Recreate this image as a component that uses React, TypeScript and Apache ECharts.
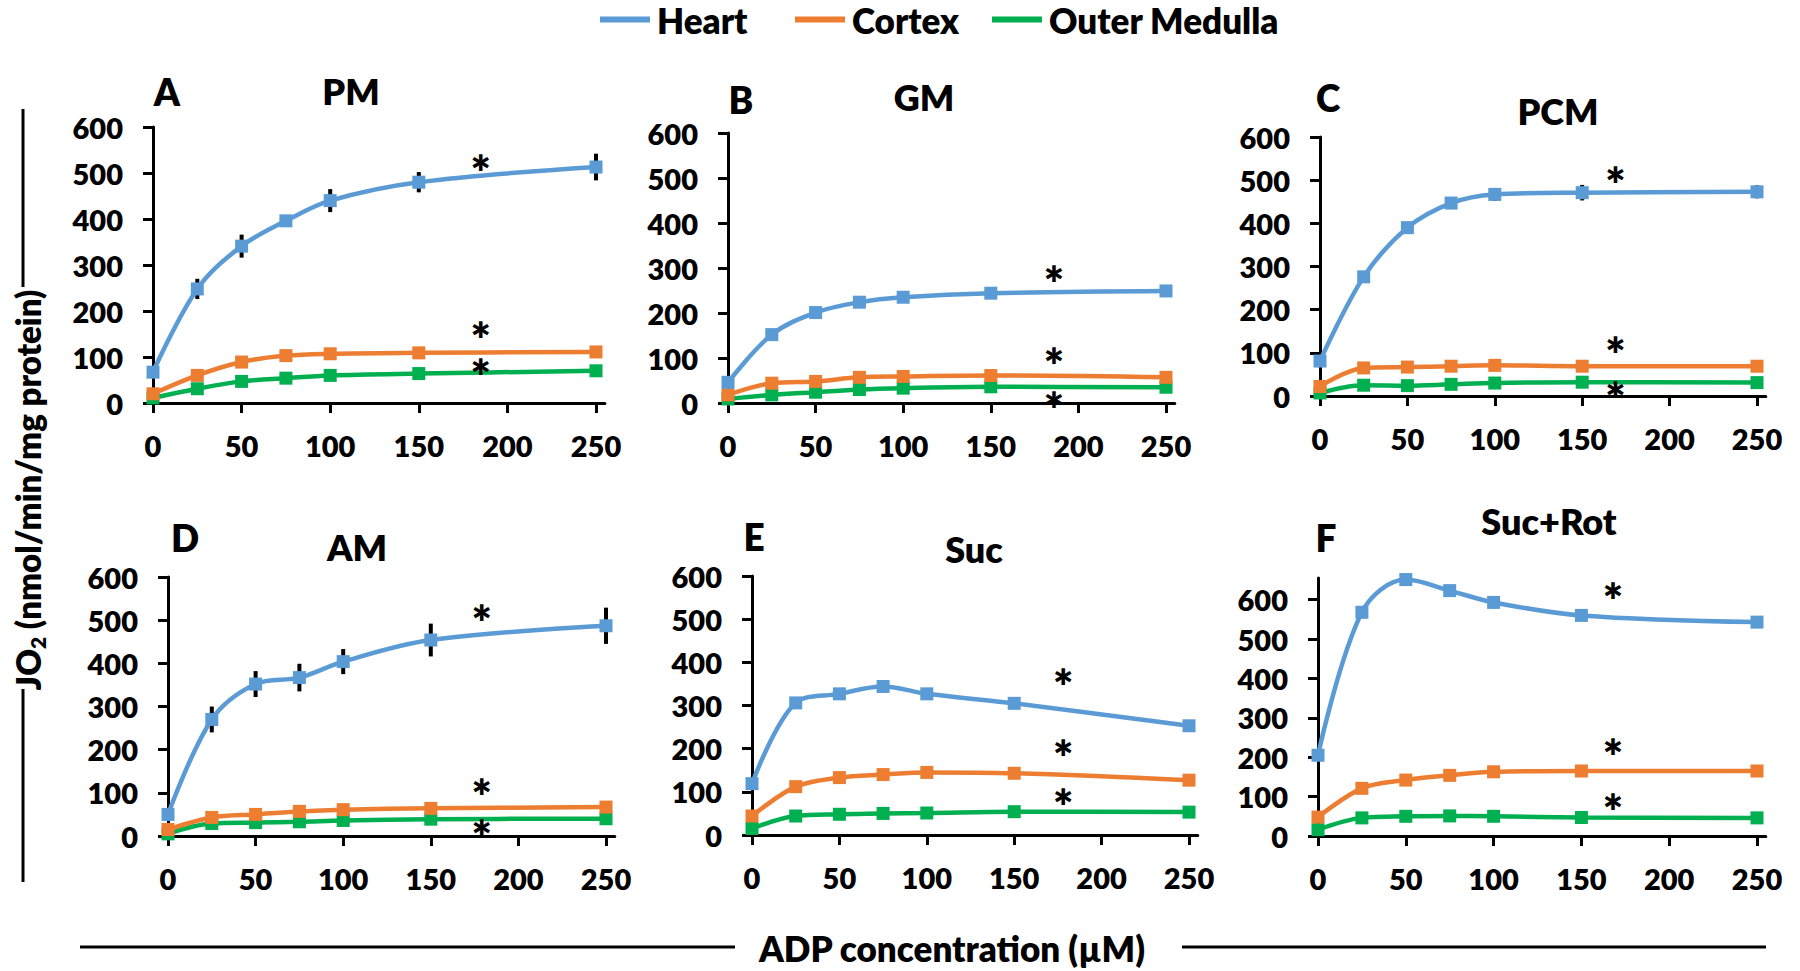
import React, { useEffect, useRef } from "react";
import * as echarts from "echarts";

// ADP concentration (µM)
const adp = [0, 25, 50, 75, 100, 150, 250];
const xTicks = [0, 50, 100, 150, 200, 250];
const yTicks = [0, 100, 200, 300, 400, 500, 600];

const panelLetters = ["A", "B", "C", "D", "E", "F"];
const panelNames = ["PM", "GM", "PCM", "AM", "Suc", "Suc+Rot"];
const yMax = [600, 600, 600, 600, 600, 655];

// JO2 values per panel
const heartA = [67, 248, 341, 396, 440, 480, 513];
const cortexA = [20, 60, 89, 103, 107, 109, 111];
const medullaA = [11, 31, 47, 54, 60, 64, 70];

const heartB = [46, 152, 201, 224, 235, 244, 249];
const cortexB = [18, 44, 48, 57, 59, 61, 57];
const medullaB = [9, 18, 24, 30, 33, 36, 35];

const heartC = [81, 276, 390, 447, 467, 471, 473];
const cortexC = [22, 65, 67, 69, 71, 69, 69];
const medullaC = [7, 25, 24, 27, 30, 32, 31];

const heartD = [50, 270, 352, 367, 404, 454, 487];
const cortexD = [15, 43, 50, 57, 61, 64, 67];
const medullaD = [5, 29, 31, 33, 36, 39, 40];

const heartE = [119, 306, 327, 344, 327, 305, 253];
const cortexE = [44, 112, 133, 140, 145, 143, 127];
const medullaE = [15, 44, 48, 50, 51, 54, 53];

const heartF = [205, 568, 651, 623, 593, 560, 543];
const cortexF = [48, 121, 142, 154, 163, 165, 165];
const medullaF = [16, 46, 50, 51, 50, 47, 46];

// error bars (± SE)
const heartErrA = [5, 22, 25, 8, 25, 22, 29];
const heartErrB = [5, 12, 12, 12, 12, 12, 12];
const heartErrC = [5, 12, 10, 14, 15, 18, 15];
const heartErrD = [5, 30, 30, 32, 29, 38, 42];
const heartErrE = [3, 3, 3, 3, 3, 3, 3];
const heartErrF = [5, 15, 12, 12, 15, 12, 12];
const cortexErrA = [3, 5, 5, 8, 8, 5, 5];
const cortexErrB = [3, 4, 4, 5, 6, 6, 5];
const cortexErrC = [3, 8, 8, 8, 8, 5, 5];
const cortexErrD = [3, 4, 4, 4, 4, 5, 8];
const cortexErrE = [3, 8, 8, 6, 8, 8, 10];
const cortexErrF = [3, 12, 10, 10, 10, 5, 5];

// significance asterisks (x position, heart / cortex / medulla heights)
const starX = [185, 186, 169, 179, 178, 168];
const starHeart = [524, 289, 515, 520, 370, 626];
const starCortex = [162, 107, 121, 118, 205, 231];
const starMedulla = [82, 11, 17, 21, 91, 91];

const seriesNames = ["Heart", "Cortex", "Outer Medulla"];
const colors = ["#5B9BD5", "#ED7D31", "#00B050"];

const heartAll = [heartA, heartB, heartC, heartD, heartE, heartF];
const cortexAll = [cortexA, cortexB, cortexC, cortexD, cortexE, cortexF];
const medullaAll = [medullaA, medullaB, medullaC, medullaD, medullaE, medullaF];
const heartErrAll = [heartErrA, heartErrB, heartErrC, heartErrD, heartErrE, heartErrF];
const cortexErrAll = [cortexErrA, cortexErrB, cortexErrC, cortexErrD, cortexErrE, cortexErrF];

const FONT = "Lato, 'Open Sans', sans-serif";
const W = 800;

// layout of the six panels (pixels)
const grids = [
  { left: 153, top: 127, width: 443, height: 276 },
  { left: 728, top: 133, width: 438, height: 270 },
  { left: 1320, top: 137, width: 437, height: 259 },
  { left: 168, top: 577, width: 438, height: 259 },
  { left: 752, top: 576, width: 437, height: 259 },
  { left: 1318, top: 578, width: 439, height: 258 },
];
const letterPos = [
  [167, 91], [741, 99], [1328, 97], [185, 537], [754, 536], [1326, 537],
];
const namePos = [
  [351, 91], [924, 97], [1558, 111], [357, 547], [974, 549], [1549, 521],
];

export default function App() {
  const ref = useRef<HTMLDivElement>(null);

  useEffect(() => {
    if (!ref.current) return;
    const chart = echarts.init(ref.current, undefined, { renderer: "svg" });

    const xMaxExt = 255;
    const gridOpts = grids.map((g) => ({
      left: g.left,
      top: g.top,
      width: (g.width * xMaxExt) / 250,
      height: g.height,
      containLabel: false,
    }));

    const axisCommon = {
      axisLine: { show: true, lineStyle: { color: "#000", width: 3 } },
      axisTick: { show: true, inside: false, length: 10, lineStyle: { color: "#000", width: 3 } },
      splitLine: { show: false },
    };

    const xAxes = grids.map((_, i) => ({
      type: "value",
      gridIndex: i,
      min: 0,
      max: xMaxExt,
      ...axisCommon,
      axisTick: { ...axisCommon.axisTick, customValues: xTicks },
      axisLabel: {
        customValues: xTicks,
        margin: 28,
        color: "#000",
        fontFamily: FONT,
        fontWeight: W,
        fontSize: 29,
      },
    }));

    const yAxes = grids.map((_, i) => ({
      type: "value",
      gridIndex: i,
      min: 0,
      max: yMax[i],
      ...axisCommon,
      axisTick: { ...axisCommon.axisTick, customValues: yTicks },
      axisLabel: {
        customValues: yTicks,
        margin: 30,
        color: "#000",
        fontFamily: FONT,
        fontWeight: W,
        fontSize: 29,
      },
    }));

    const series: any[] = [];
    const errRender = (params: any, api: any) => {
      const x = api.value(0);
      const y = api.value(1);
      const e = api.value(2);
      const p1 = api.coord([x, y + e]);
      const p2 = api.coord([x, y - e]);
      return {
        type: "line",
        shape: { x1: p1[0], y1: p1[1], x2: p2[0], y2: p2[1] },
        style: { stroke: "#000", lineWidth: 4 },
      };
    };
    const starRender = (params: any, api: any) => {
      const p = api.coord([api.value(0), api.value(1)]);
      return {
        type: "text",
        x: p[0],
        y: p[1] + 10,
        style: {
          text: "*",
          fill: "#000",
          font: `${W} 48px ${FONT}`,
          textAlign: "center",
          textVerticalAlign: "middle",
        },
      };
    };

    for (let i = 0; i < 6; i++) {
      const vals = [heartAll[i], cortexAll[i], medullaAll[i]];
      // error bars
      series.push({
        type: "custom",
        xAxisIndex: i,
        yAxisIndex: i,
        z: 1,
        renderItem: errRender,
        encode: { x: 0, y: 1 },
        data: adp.map((x, k) => [x, heartAll[i][k], heartErrAll[i][k]]),
        silent: true,
      });
      series.push({
        type: "custom",
        xAxisIndex: i,
        yAxisIndex: i,
        z: 1,
        renderItem: errRender,
        encode: { x: 0, y: 1 },
        data: adp.map((x, k) => [x, cortexAll[i][k], cortexErrAll[i][k]]),
        silent: true,
      });
      for (let s = 0; s < 3; s++) {
        series.push({
          name: seriesNames[s],
          type: "line",
          xAxisIndex: i,
          yAxisIndex: i,
          z: 3 - s + 2,
          smooth: 0.35,
          symbol: "rect",
          symbolSize: 13,
          showAllSymbol: true,
          lineStyle: { color: colors[s], width: 4.5 },
          itemStyle: { color: colors[s] },
          data: adp.map((x, k) => [x, vals[s][k]]),
        });
      }
      // asterisks
      series.push({
        type: "custom",
        xAxisIndex: i,
        yAxisIndex: i,
        z: 10,
        silent: true,
        renderItem: starRender,
        encode: { x: 0, y: 1 },
        data: [
          [starX[i], starHeart[i]],
          [starX[i], starCortex[i]],
          [starX[i], starMedulla[i]],
        ],
      });
    }

    const legendLefts = [595, 790, 987];
    const legends = seriesNames.map((n, k) => ({
      data: [n],
      left: legendLefts[k],
      top: -3,
      icon: "rect",
      itemWidth: 50,
      itemHeight: 6,
      itemGap: 0,
      selectedMode: false,
      textStyle: {
        color: "#000",
        fontFamily: FONT,
        fontWeight: W,
        fontSize: 35,
        lineHeight: 30,
        padding: [0, 0, 0, 2],
      },
    }));

    const graphics: any[] = [];
    for (let i = 0; i < 6; i++) {
      graphics.push({
        type: "text",
        x: letterPos[i][0],
        y: letterPos[i][1],
        style: {
          text: panelLetters[i],
          fill: "#000",
          font: `${W} 37px ${FONT}`,
          textAlign: "center",
          textVerticalAlign: "middle",
        },
      });
      graphics.push({
        type: "text",
        x: namePos[i][0],
        y: namePos[i][1],
        style: {
          text: panelNames[i],
          fill: "#000",
          font: `${W} 36px ${FONT}`,
          textAlign: "center",
          textVerticalAlign: "middle",
        },
      });
    }
    // Y-axis title with flanking lines
    graphics.push({
      type: "text",
      x: 28,
      y: 490,
      rotation: Math.PI / 2,
      style: {
        text: "{a|JO}{b|2}{a| (nmol/min/mg protein)}",
        fill: "#000",
        textAlign: "center",
        textVerticalAlign: "middle",
        rich: {
          a: { fontFamily: FONT, fontWeight: W, fontSize: 33, lineHeight: 40, fill: "#000" },
          b: { fontFamily: FONT, fontWeight: W, fontSize: 21, lineHeight: 20, verticalAlign: "bottom", fill: "#000" },
        },
      },
    });
    graphics.push({ type: "line", shape: { x1: 23, y1: 109, x2: 23, y2: 287 }, style: { stroke: "#000", lineWidth: 3 } });
    graphics.push({ type: "line", shape: { x1: 23, y1: 689, x2: 23, y2: 882 }, style: { stroke: "#000", lineWidth: 3 } });
    // X-axis title with flanking lines
    graphics.push({
      type: "text",
      x: 952,
      y: 948,
      style: {
        text: "ADP concentration (µM)",
        fill: "#000",
        font: `${W} 35px ${FONT}`,
        textAlign: "center",
        textVerticalAlign: "middle",
      },
    });
    graphics.push({ type: "line", shape: { x1: 80, y1: 947, x2: 735, y2: 947 }, style: { stroke: "#000", lineWidth: 3 } });
    graphics.push({ type: "line", shape: { x1: 1182, y1: 947, x2: 1766, y2: 947 }, style: { stroke: "#000", lineWidth: 3 } });

    chart.setOption({
      animation: false,
      backgroundColor: "#fff",
      grid: gridOpts,
      xAxis: xAxes,
      yAxis: yAxes,
      legend: legends,
      series,
      graphic: graphics,
    });

    return () => chart.dispose();
  }, []);

  return (
    <div
      ref={ref}
      style={{ position: "fixed", left: 0, top: 0, width: 1800, height: 971, background: "#fff" }}
    />
  );
}
